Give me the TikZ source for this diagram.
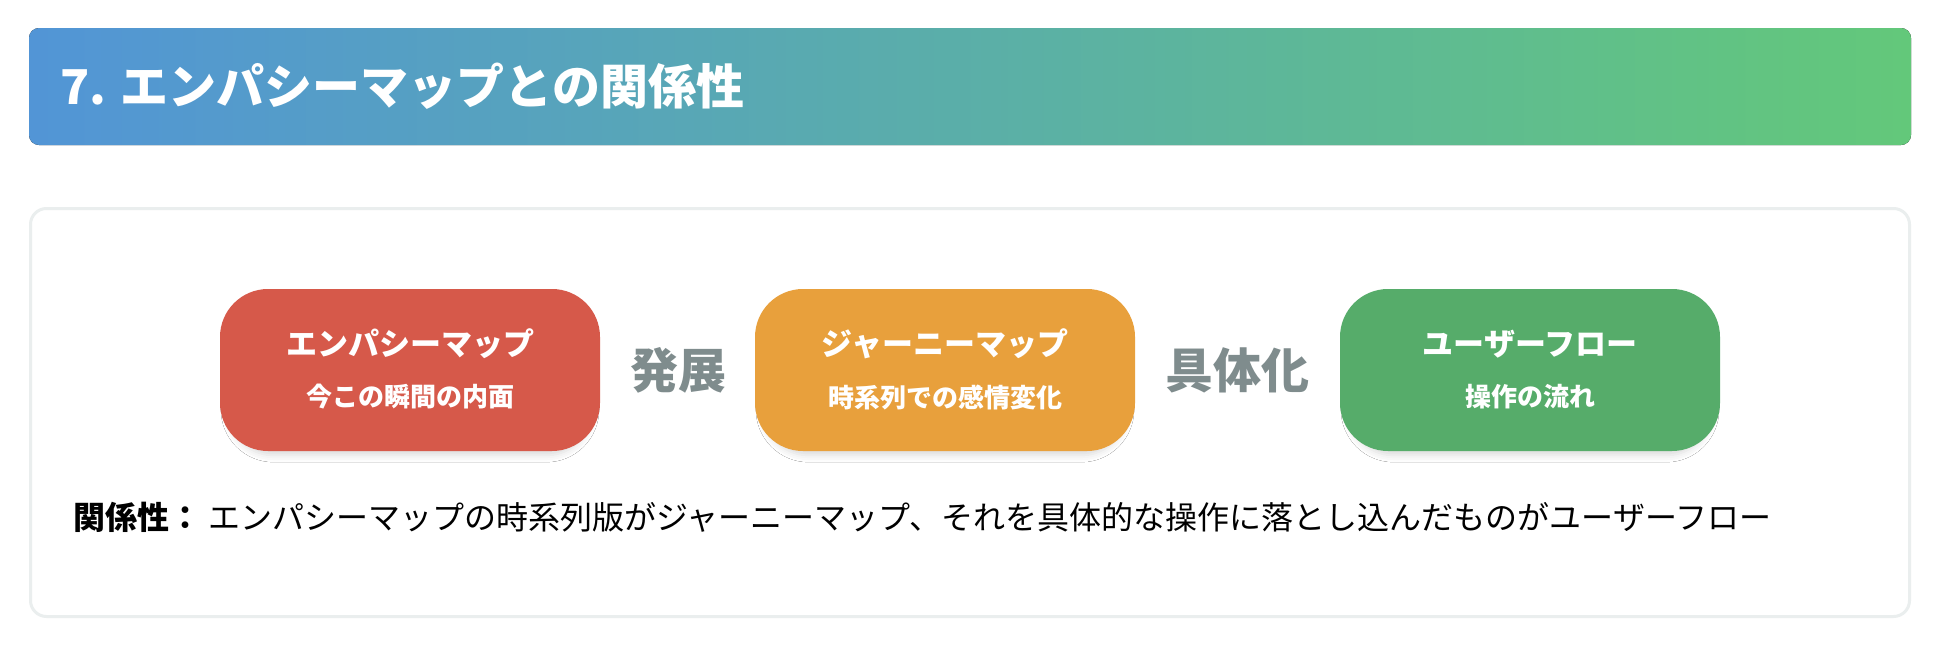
\documentclass[tikz,border=0pt]{standalone}
\usepackage{fontspec}
\setmainfont{Noto Sans CJK JP}
\newfontfamily\jp{Noto Sans CJK JP}
\usetikzlibrary{shadows.blur}
\definecolor{hblue}{RGB}{82,149,214}
\definecolor{hgreen}{RGB}{99,200,122}
\definecolor{cred}{RGB}{214,89,74}
\definecolor{corange}{RGB}{232,160,60}
\definecolor{cgreen}{RGB}{86,172,106}
\definecolor{cgray}{RGB}{127,140,141}
\definecolor{cborder}{RGB}{234,238,238}
\tikzset{
  mapbox/.style={rounded corners=48pt, minimum width=380pt, minimum height=162pt, inner sep=0pt,
    blur shadow={shadow xshift=0pt, shadow yshift=-8pt, shadow scale=0.96, shadow blur radius=7pt, shadow opacity=14}},
  boxtitle/.style={text=white, font=\jp\bfseries\fontsize{31}{36}\selectfont, inner sep=0pt},
  boxsub/.style={text=white, font=\jp\bfseries\fontsize{26}{30}\selectfont, inner sep=0pt},
  relword/.style={text=cgray, font=\jp\bfseries\fontsize{48}{56}\selectfont, inner sep=0pt},
}
\begin{document}
\begin{tikzpicture}[x=1pt,y=-1pt]
\useasboundingbox (0,0) rectangle (1940,648);
\fill[white] (0,0) rectangle (1940,648);
% header
\fill[left color=hblue, right color=hgreen, rounded corners=10pt] (29,28) rectangle (1911,145);
\node[anchor=west, text=white, font=\jp\bfseries\fontsize{48}{56}\selectfont, inner sep=0pt] (title) at (60,86) {7. エンパシーマップとの関係性};
% content panel
\draw[cborder, line width=3pt, fill=white, rounded corners=16pt] (30.5,208.5) rectangle (1909.5,616.5);
% boxes
\node[mapbox, fill=cred] (em) at (410,370) {};
\node[mapbox, fill=corange] (jm) at (945,370) {};
\node[mapbox, fill=cgreen] (uf) at (1530,370) {};
\node[boxtitle] (emt) at (410,344) {エンパシーマップ};
\node[boxsub] (ems) at (410,397) {今この瞬間の内面};
\node[boxtitle] (jmt) at (945,344) {ジャーニーマップ};
\node[boxsub] (jms) at (945,397) {時系列での感情変化};
\node[boxtitle] (uft) at (1530,344) {ユーザーフロー};
\node[boxsub] (ufs) at (1530,397) {操作の流れ};
% relation words
\node[relword] (dev) at (678,370) {発展};
\node[relword] (conc) at (1237,370) {具体化};
% relation sentence
\node[anchor=west, inner sep=0pt, font=\jp\fontsize{32}{38}\selectfont] (rel) at (73,517) {{\bfseries 関係性：} エンパシーマップの時系列版がジャーニーマップ、それを具体的な操作に落とし込んだものがユーザーフロー};
\end{tikzpicture}
\end{document}
